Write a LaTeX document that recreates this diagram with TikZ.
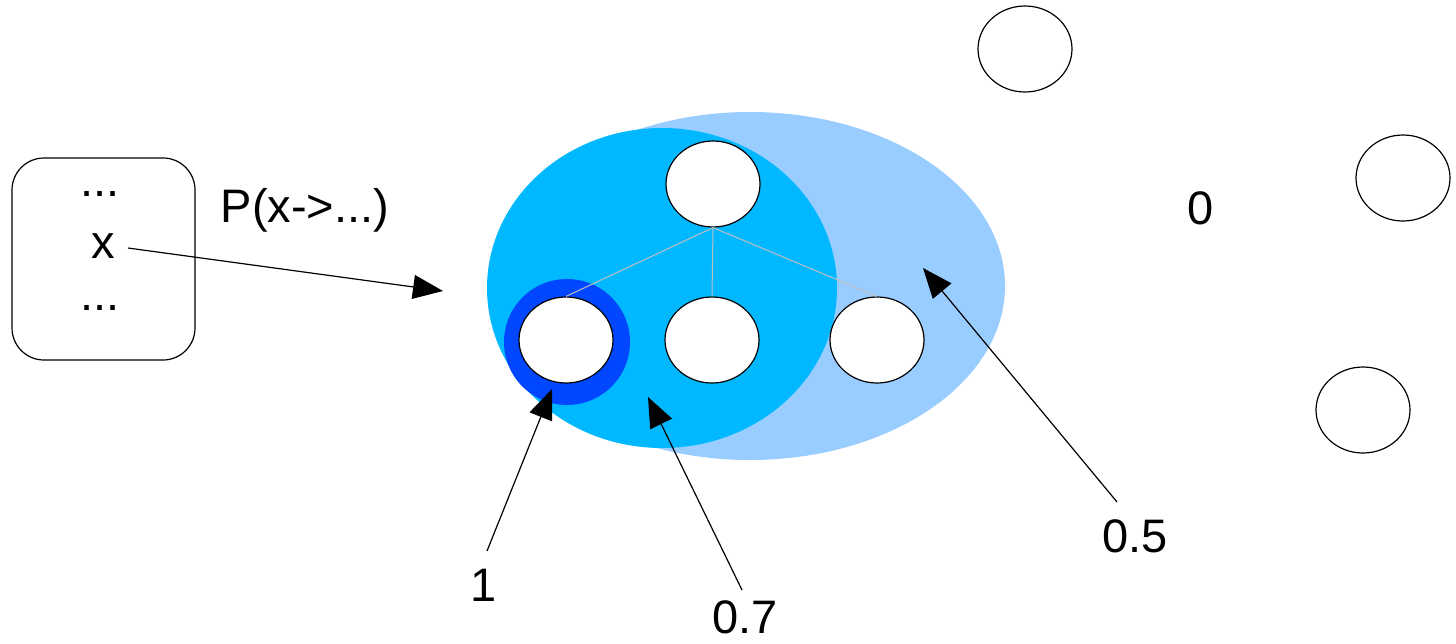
\documentclass[tikz,border=0pt]{standalone}
\usepackage{fontspec}
\setmainfont{Liberation Sans}
\usetikzlibrary{shapes.geometric,arrows.meta}
\definecolor{lightblob}{HTML}{99CCFF}
\definecolor{cyanblob}{HTML}{00B8FF}
\definecolor{ringblue}{HTML}{0047FF}
\tikzset{
  wnode/.style={ellipse,draw=black,line width=1.2pt,fill=white,minimum width=94pt,minimum height=86pt,inner sep=0pt},
  lbl/.style={inner sep=0pt,font=\fontsize{47}{55}\selectfont},
  ptr/.style={draw=black,line width=1.2pt,-{Triangle[length=30pt,width=24pt]}},
  tree/.style={draw=black!25,line width=1pt}
}
\begin{document}
\begin{tikzpicture}[x=1pt,y=-1pt]
\useasboundingbox (0,0) rectangle (1456,643);
% left box
\node[draw=black,line width=1.2pt,rounded corners=32pt,minimum width=183pt,minimum height=202pt,inner sep=0pt] (box) at (103.5,259) {};
\node[lbl] (d1) at (100,194) {...};
\node[lbl] (xx) at (103,246) {x};
\node[lbl] (d2) at (100,308) {...};
\coordinate (xs) at (128,248);
\node[lbl] (plbl) at (305,210) {P(x->...)};
% blobs
\fill[lightblob] (750,286) ellipse [x radius=255, y radius=174];
\fill[cyanblob] (662,288) ellipse [x radius=175, y radius=160];
\fill[ringblue] (567,342) circle [radius=63];
\coordinate (into) at (443,291);
% tree nodes
\node[wnode] (t0) at (713,184) {};
\node[wnode] (t1) at (566,340) {};
\node[wnode] (t2) at (712,340) {};
\node[wnode] (t3) at (877,340) {};
\draw[tree] (t0.south) -- (t1.north);
\draw[tree] (t0.south) -- (t2.north);
\draw[tree] (t0.south) -- (t3.north);
% outside nodes
\node[wnode] (o1) at (1025,49) {};
\node[wnode] (o2) at (1403,178) {};
\node[wnode] (o3) at (1363,410) {};
\node[lbl] (zero) at (1201,208) {0};
% labels and pointers
\node[lbl] (l1) at (484,585) {1};
\node[lbl] (l7) at (745,617) {0.7};
\node[lbl] (l5) at (1135,536) {0.5};
\coordinate (p1) at (552,389);
\coordinate (p7) at (648,397);
\coordinate (p5) at (923,268);
\draw[ptr] (xs) -- (into);
\draw[ptr] (487,551) -- (p1);
\draw[ptr] (742,590) -- (p7);
\draw[ptr] (1117,502) -- (p5);
\end{tikzpicture}
\end{document}
